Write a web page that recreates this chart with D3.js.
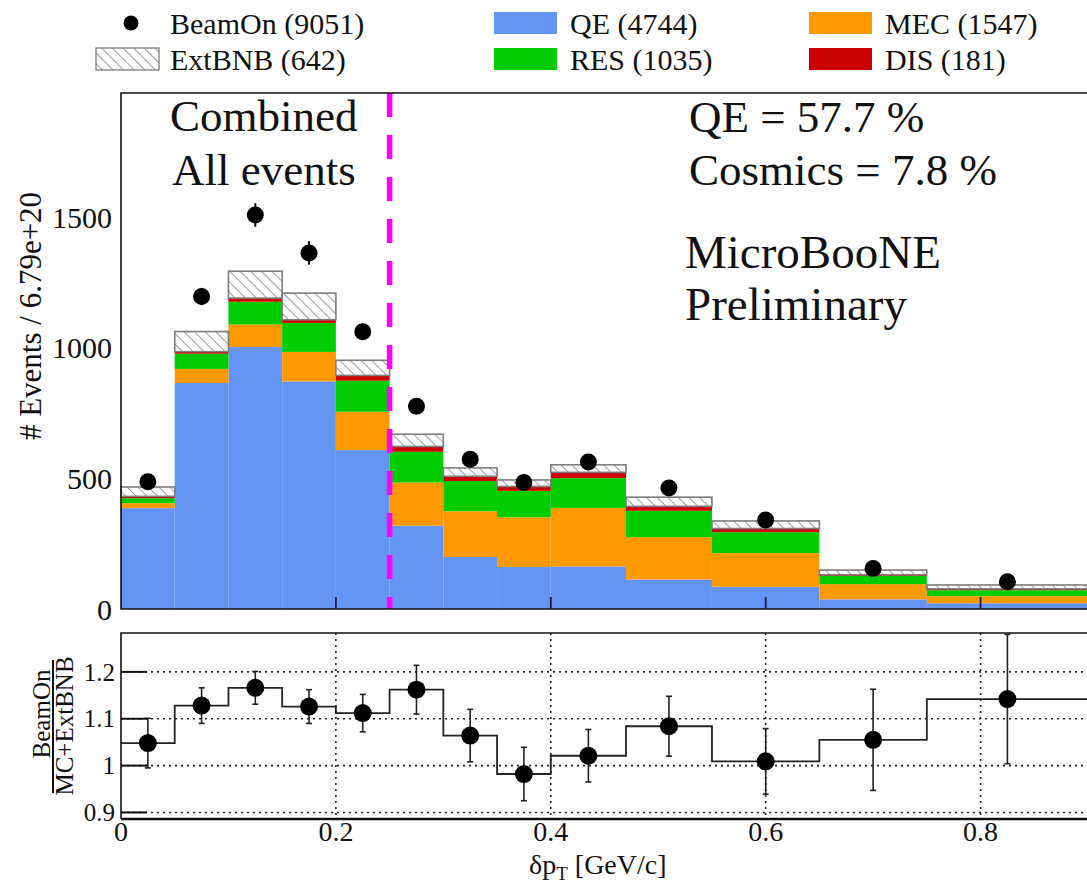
<!DOCTYPE html>
<html>
<head>
<meta charset="utf-8">
<script src="https://cdn.jsdelivr.net/npm/d3@7"></script>
<style>
  html, body { margin: 0; padding: 0; background: #fff; }
  svg text { fill: #111; }
</style>
</head>
<body>
<div id="chart"></div>
<script>
// bins in dpT [GeV/c]
const binEdges = [0, 0.05, 0.1, 0.15, 0.2, 0.25, 0.3, 0.35, 0.4, 0.47, 0.55, 0.65, 0.75, 0.9];

// stacked components (events per bin)
const qe     = [386, 865, 1003, 871, 608, 319, 199, 161, 163, 113, 85, 37, 22];
const mec    = [19, 54, 86, 113, 147, 165, 175, 190, 224, 162, 129, 58, 27];
const res    = [19, 58, 87, 111, 119, 118, 116, 101, 114, 101, 80, 32, 23];
const dis    = [7, 8, 14, 12, 20, 20, 18, 17, 22, 17, 14, 4, 5];
const extbnb = [36, 77, 103, 102, 58, 47, 32, 25, 29, 35, 29, 18, 15];

// data
const beamOn    = [487, 1196, 1508, 1363, 1061, 776, 573, 484, 563, 463, 341, 155, 104];
const beamOnErr = [25, 33, 45, 45, 30, 28, 24, 22, 24, 22, 18, 12, 10];

// ratio panel
const ratio    = [1.048, 1.128, 1.166, 1.126, 1.112, 1.162, 1.064, 0.982, 1.021, 1.084, 1.009, 1.055, 1.142];
const ratioErr = [0.053, 0.038, 0.035, 0.036, 0.040, 0.052, 0.056, 0.057, 0.056, 0.064, 0.070, 0.108, 0.138];

const xTicks = [0, 0.2, 0.4, 0.6, 0.8];
const yTicks = [0, 500, 1000, 1500];
const ratioTicks = [0.9, 1, 1.1, 1.2];

const colors = { QE: "#6495f5", MEC: "#ff9900", RES: "#00cc00", DIS: "#cc0000" };

const W = 1087, H = 885;
const left = 121, right = 1088;
const mainTop = 93, mainBottom = 609;
const ratTop = 633, ratBottom = 819;

const svg = d3.select("#chart").append("svg")
  .attr("width", W).attr("height", H)
  .attr("viewBox", `0 0 ${W} ${H}`)
  .attr("font-family", "'Liberation Serif', 'Times New Roman', Times, serif");

const defs = svg.append("defs");
const pat = defs.append("pattern")
  .attr("id", "hatch")
  .attr("patternUnits", "userSpaceOnUse")
  .attr("width", 7.5).attr("height", 7.5)
  .attr("patternTransform", "rotate(-45)");
pat.append("rect").attr("width", 7.5).attr("height", 7.5).attr("fill", "#fff");
pat.append("line").attr("x1", 0).attr("y1", 0).attr("x2", 0).attr("y2", 7.5)
  .attr("stroke", "#6a6a6a").attr("stroke-width", 1.3);

const x = d3.scaleLinear().domain([0, 0.9]).range([left, right]);
const y = d3.scaleLinear().domain([0, 1975]).range([mainBottom, mainTop]);
const yr = d3.scaleLinear().domain([0.886, 1.283]).range([ratBottom, ratTop]);

// build stacked table
const keys = ["QE", "MEC", "RES", "DIS", "ExtBNB"];
const table = binEdges.slice(0, -1).map((lo, i) => ({
  lo, hi: binEdges[i + 1],
  QE: qe[i], MEC: mec[i], RES: res[i], DIS: dis[i], ExtBNB: extbnb[i]
}));
const stacked = d3.stack().keys(keys)(table);

const main = svg.append("g");

stacked.forEach(layer => {
  const isExt = layer.key === "ExtBNB";
  main.append("g").selectAll("rect")
    .data(layer)
    .join("rect")
    .attr("x", d => x(d.data.lo))
    .attr("width", d => x(d.data.hi) - x(d.data.lo))
    .attr("y", d => y(d[1]))
    .attr("height", d => y(d[0]) - y(d[1]))
    .attr("fill", isExt ? "url(#hatch)" : colors[layer.key])
    .attr("stroke", isExt ? "#7d7d7d" : "none")
    .attr("stroke-width", isExt ? 1.6 : 0);
});

// magenta cut line
main.append("line")
  .attr("x1", x(0.25)).attr("x2", x(0.25))
  .attr("y1", mainTop).attr("y2", mainBottom)
  .attr("stroke", "#ff00ff").attr("stroke-width", 5.5)
  .attr("stroke-dasharray", "24,18");

// frame of main panel
main.append("path")
  .attr("d", `M${right},${mainTop}H${left}V${mainBottom}H${right}`)
  .attr("fill", "none").attr("stroke", "#111").attr("stroke-width", 1.6);

// x ticks on main panel
main.append("g").selectAll("line")
  .data(xTicks.slice(1))
  .join("line")
  .attr("x1", d => x(d)).attr("x2", d => x(d))
  .attr("y1", mainBottom).attr("y2", mainBottom - 12)
  .attr("stroke", "#1a1a3a").attr("stroke-width", 1.8);

// y tick labels
main.append("g").selectAll("text")
  .data(yTicks)
  .join("text")
  .attr("x", 112).attr("y", d => y(d))
  .attr("dy", "0.35em")
  .attr("text-anchor", "end")
  .style("font-size", "30px")
  .text(d => d);

main.append("text")
  .attr("transform", "translate(41,316) rotate(-90)")
  .attr("text-anchor", "middle")
  .style("font-size", "31px")
  .text("# Events / 6.79e+20");

// data points
const centers = table.map(d => (d.lo + d.hi) / 2);
main.append("g").selectAll("line")
  .data(beamOn)
  .join("line")
  .attr("x1", (d, i) => x(centers[i])).attr("x2", (d, i) => x(centers[i]))
  .attr("y1", (d, i) => y(d - beamOnErr[i])).attr("y2", (d, i) => y(d + beamOnErr[i]))
  .attr("stroke", "#000").attr("stroke-width", 2);
main.append("g").selectAll("circle")
  .data(beamOn)
  .join("circle")
  .attr("cx", (d, i) => x(centers[i]))
  .attr("cy", d => y(d))
  .attr("r", 8.5)
  .attr("fill", "#000");

// panel texts
const big = [
  { t: "Combined", x: 170, y: 131, s: 45 },
  { t: "All events", x: 172, y: 185, s: 45 },
  { t: "QE = 57.7 %", x: 689, y: 132, s: 45 },
  { t: "Cosmics = 7.8 %", x: 689, y: 185, s: 45 },
  { t: "MicroBooNE", x: 685, y: 268, s: 47 },
  { t: "Preliminary", x: 685, y: 320, s: 47 }
];
main.append("g").selectAll("text")
  .data(big)
  .join("text")
  .attr("x", d => d.x).attr("y", d => d.y)
  .style("font-size", d => d.s + "px")
  .text(d => d.t);

// legend
const legendLabels = [
  { t: "BeamOn (9051)", kind: "dot", x: 131, y: 23 },
  { t: "ExtBNB (642)", kind: "hatch", x: 96, y: 59 },
  { t: "QE (4744)", kind: "QE", x: 494, y: 23 },
  { t: "RES (1035)", kind: "RES", x: 494, y: 59 },
  { t: "MEC (1547)", kind: "MEC", x: 809, y: 23 },
  { t: "DIS (181)", kind: "DIS", x: 809, y: 59 }
];
const leg = svg.append("g");
legendLabels.forEach(d => {
  if (d.kind === "dot") {
    leg.append("circle").attr("cx", d.x).attr("cy", d.y).attr("r", 7.5).attr("fill", "#000");
    leg.append("text").attr("x", 170).attr("y", d.y).attr("dy", "0.35em")
      .style("font-size", "30px").text(d.t);
  } else {
    leg.append("rect").attr("x", d.x).attr("y", d.y - 11).attr("width", 63).attr("height", 22)
      .attr("fill", d.kind === "hatch" ? "url(#hatch)" : colors[d.kind])
      .attr("stroke", d.kind === "hatch" ? "#7d7d7d" : "none").attr("stroke-width", 1.3);
    leg.append("text").attr("x", d.kind === "hatch" ? 170 : d.x + 76).attr("y", d.y).attr("dy", "0.35em")
      .style("font-size", "30px").text(d.t);
  }
});

// ratio panel
const rat = svg.append("g");

// grid
rat.append("g").selectAll("line")
  .data(ratioTicks)
  .join("line")
  .attr("x1", left).attr("x2", right)
  .attr("y1", d => yr(d)).attr("y2", d => yr(d))
  .attr("stroke", "#222").attr("stroke-width", 1.6).attr("stroke-dasharray", "2,4");
rat.append("g").selectAll("line")
  .data(xTicks.slice(1))
  .join("line")
  .attr("x1", d => x(d)).attr("x2", d => x(d))
  .attr("y1", ratTop).attr("y2", ratBottom)
  .attr("stroke", "#222").attr("stroke-width", 1.6).attr("stroke-dasharray", "2,4");

// y ticks
rat.append("g").selectAll("line")
  .data(ratioTicks)
  .join("line")
  .attr("x1", left).attr("x2", left + 26)
  .attr("y1", d => yr(d)).attr("y2", d => yr(d))
  .attr("stroke", "#111").attr("stroke-width", 2);

rat.append("g").selectAll("text")
  .data(ratioTicks)
  .join("text")
  .attr("x", 115).attr("y", d => yr(d))
  .attr("dy", "0.35em").attr("text-anchor", "end")
  .style("font-size", "25px")
  .text(d => d);

// step line
const stepPts = table.map((d, i) => [d.lo, ratio[i]]);
stepPts.push([binEdges[binEdges.length - 1], ratio[ratio.length - 1]]);
rat.append("path")
  .datum(stepPts)
  .attr("d", d3.line().x(d => x(d[0])).y(d => yr(d[1])).curve(d3.curveStepAfter))
  .attr("fill", "none").attr("stroke", "#222").attr("stroke-width", 1.8);

// error bars + points
const eb = rat.append("g");
ratio.forEach((r, i) => {
  const cx = x(centers[i]);
  const hi = Math.min(r + ratioErr[i], 1.283);
  const lo = r - ratioErr[i];
  eb.append("line").attr("x1", cx).attr("x2", cx)
    .attr("y1", yr(lo)).attr("y2", yr(hi))
    .attr("stroke", "#222").attr("stroke-width", 1.6);
  [lo, hi].forEach(v => eb.append("line")
    .attr("x1", cx - 3).attr("x2", cx + 3)
    .attr("y1", yr(v)).attr("y2", yr(v))
    .attr("stroke", "#222").attr("stroke-width", 1.6));
  eb.append("circle").attr("cx", cx).attr("cy", yr(r)).attr("r", 9).attr("fill", "#000");
});

// frame
rat.append("path")
  .attr("d", `M${right},${ratTop}H${left}V${ratBottom}`)
  .attr("fill", "none").attr("stroke", "#111").attr("stroke-width", 1.6);
rat.append("line")
  .attr("x1", left).attr("x2", right)
  .attr("y1", ratBottom).attr("y2", ratBottom)
  .attr("stroke", "#111").attr("stroke-width", 2.4);

// x tick labels
rat.append("g").selectAll("text")
  .data(xTicks)
  .join("text")
  .attr("x", d => x(d)).attr("y", 841)
  .attr("text-anchor", "middle")
  .style("font-size", "28px")
  .text(d => d);

// x title
const xt = rat.append("text").attr("x", 529).attr("y", 874).style("font-size", "28px");
xt.append("tspan").text("δp");
xt.append("tspan").attr("dy", 6).style("font-size", "19px").text("T");
xt.append("tspan").attr("dy", -6).text(" [GeV/c]");

// ratio y title
rat.append("text")
  .attr("transform", "translate(50,714) rotate(-90)")
  .attr("text-anchor", "middle")
  .style("font-size", "25px")
  .text("BeamOn");
rat.append("line")
  .attr("x1", 53).attr("x2", 53).attr("y1", 660).attr("y2", 793)
  .attr("stroke", "#111").attr("stroke-width", 2);
rat.append("text")
  .attr("transform", "translate(73,726) rotate(-90)")
  .attr("text-anchor", "middle")
  .style("font-size", "25px")
  .text("MC+ExtBNB");
</script>
</body>
</html>
